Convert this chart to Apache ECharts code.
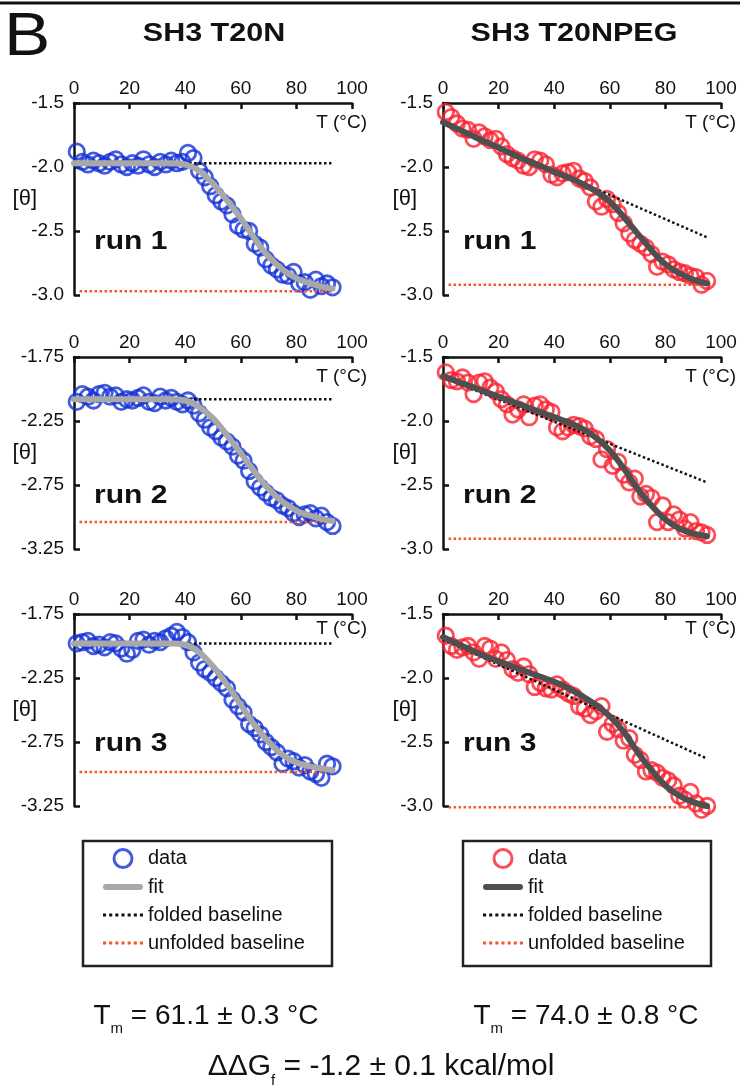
<!DOCTYPE html>
<html>
<head>
<meta charset="utf-8">
<title>SH3 T20N / T20NPEG thermal melts</title>
<script src="https://cdn.jsdelivr.net/npm/echarts@6/dist/echarts.min.js"></script>
<style>
  html, body { margin: 0; padding: 0; background: #fff; }
  #chart { width: 740px; height: 1090px; }
</style>
</head>
<body>
<div id="chart"></div>
<script>
// temperatures (°C)
var tempT20n = [1,3,5,7,9,11,13,15,17,19,21,23,25,27,29,31,33,35,37,39,41,43,45,47,49,51,53,55,57,59,61,63,65,67,69,71,73,75,77,79,81,83,85,87,89,91,93];
var tempPeg = [1,3,5,7,9,11,13,15,17,19,21,23,25,27,29,31,33,35,37,39,41,43,45,47,49,51,53,55,57,59,61,63,65,67,69,71,73,75,77,79,81,83,85,87,89,91,93,95];

// measured [θ], SH3 T20N
var t20nRun1 = [-1.88,-1.96,-1.98,-1.95,-1.97,-1.99,-1.96,-1.94,-1.98,-2.00,-1.97,-1.99,-1.94,-1.98,-2.00,-1.96,-1.98,-1.95,-1.97,-1.96,-1.89,-1.93,-2.03,-2.08,-2.15,-2.22,-2.27,-2.30,-2.37,-2.46,-2.49,-2.50,-2.60,-2.63,-2.72,-2.77,-2.80,-2.84,-2.85,-2.82,-2.91,-2.90,-2.96,-2.88,-2.93,-2.91,-2.94];
var t20nRun2 = [-2.10,-2.04,-2.06,-2.09,-2.04,-2.03,-2.06,-2.05,-2.10,-2.08,-2.09,-2.07,-2.05,-2.10,-2.11,-2.06,-2.09,-2.07,-2.10,-2.12,-2.09,-2.13,-2.19,-2.24,-2.30,-2.33,-2.38,-2.41,-2.45,-2.52,-2.56,-2.64,-2.72,-2.77,-2.81,-2.85,-2.87,-2.91,-2.93,-2.97,-3.00,-2.98,-2.97,-3.01,-2.99,-3.04,-3.07];
var t20nRun3 = [-1.98,-1.97,-1.96,-2.00,-1.99,-2.01,-1.97,-1.98,-2.02,-2.06,-2.03,-1.96,-1.95,-1.99,-1.96,-1.97,-1.94,-1.92,-1.89,-1.93,-1.97,-2.05,-2.13,-2.18,-2.21,-2.25,-2.29,-2.33,-2.42,-2.47,-2.52,-2.61,-2.64,-2.69,-2.75,-2.79,-2.83,-2.92,-2.88,-2.90,-2.95,-2.93,-2.98,-3.00,-3.03,-2.92,-2.94];

// measured [θ], SH3 T20NPEG
var pegRun1 = [-1.57,-1.61,-1.66,-1.70,-1.71,-1.78,-1.73,-1.76,-1.79,-1.78,-1.84,-1.90,-1.93,-1.95,-1.99,-2.00,-1.94,-1.95,-1.98,-2.06,-2.08,-2.05,-2.04,-2.03,-2.09,-2.11,-2.16,-2.27,-2.31,-2.25,-2.29,-2.36,-2.44,-2.52,-2.57,-2.60,-2.63,-2.68,-2.78,-2.74,-2.76,-2.80,-2.82,-2.83,-2.85,-2.86,-2.92,-2.89];
var pegRun2 = [-1.62,-1.68,-1.69,-1.66,-1.70,-1.79,-1.70,-1.69,-1.74,-1.77,-1.83,-1.87,-1.95,-1.91,-1.87,-1.97,-1.88,-1.87,-1.91,-1.93,-2.05,-2.08,-2.05,-2.03,-2.04,-2.06,-2.12,-2.14,-2.30,-2.22,-2.35,-2.32,-2.42,-2.48,-2.45,-2.59,-2.57,-2.60,-2.79,-2.66,-2.79,-2.73,-2.77,-2.84,-2.79,-2.86,-2.87,-2.89];
var pegRun3 = [-1.67,-1.75,-1.78,-1.76,-1.75,-1.80,-1.85,-1.75,-1.77,-1.85,-1.80,-1.86,-1.93,-1.96,-1.91,-1.97,-2.07,-2.04,-2.08,-2.09,-2.05,-2.09,-2.12,-2.14,-2.22,-2.24,-2.29,-2.26,-2.22,-2.42,-2.36,-2.40,-2.49,-2.47,-2.60,-2.64,-2.73,-2.72,-2.74,-2.78,-2.80,-2.84,-2.92,-2.95,-2.89,-2.98,-3.03,-3.00];

// fitted curves
var fitTempT20n = [0,5,10,15,20,25,30,35,40,45,50,55,60,65,70,75,80,85,90,93];
var fitT20n1 = [-1.97,-1.97,-1.97,-1.97,-1.97,-1.97,-1.97,-1.97,-1.98,-2.03,-2.13,-2.26,-2.40,-2.56,-2.70,-2.80,-2.87,-2.91,-2.94,-2.95];
var fitT20n2 = [-2.08,-2.08,-2.08,-2.08,-2.08,-2.08,-2.08,-2.08,-2.09,-2.14,-2.23,-2.36,-2.50,-2.65,-2.78,-2.88,-2.95,-2.99,-3.02,-3.03];
var fitT20n3 = [-1.98,-1.98,-1.98,-1.98,-1.98,-1.98,-1.98,-1.98,-1.99,-2.05,-2.16,-2.30,-2.46,-2.62,-2.75,-2.85,-2.91,-2.94,-2.96,-2.97];
var fitTempPeg = [0,5,10,15,20,25,30,35,40,45,50,55,60,65,70,75,80,85,90,95];
var fitPeg1 = [-1.65,-1.70,-1.75,-1.80,-1.85,-1.90,-1.95,-1.99,-2.04,-2.08,-2.13,-2.19,-2.27,-2.39,-2.52,-2.65,-2.76,-2.83,-2.88,-2.91];
var fitPeg2 = [-1.65,-1.69,-1.73,-1.77,-1.81,-1.85,-1.89,-1.93,-1.97,-2.01,-2.06,-2.13,-2.23,-2.37,-2.53,-2.66,-2.77,-2.84,-2.88,-2.90];
var fitPeg3 = [-1.68,-1.73,-1.78,-1.83,-1.87,-1.91,-1.95,-1.99,-2.03,-2.08,-2.14,-2.21,-2.30,-2.42,-2.58,-2.72,-2.84,-2.92,-2.97,-3.00];

// baselines: [start value, end value] over [start T, end T]
var foldedT20n = [[-1.97,-1.97],[-2.08,-2.08],[-1.98,-1.98]];
var unfoldedT20n = [[-2.97,-2.97],[-3.04,-3.04],[-2.985,-2.985]];
var foldedPeg = [[-1.65,-2.55],[-1.66,-2.48],[-1.70,-2.63]];
var unfoldedPeg = [[-2.92,-2.92],[-2.92,-2.92],[-3.01,-3.01]];
var foldedRangeT20n = [0, 93], unfoldedRangeT20n = [2, 93];
var foldedRangePeg = [0, 95], unfoldedRangePeg = [2, 95];

// tick labels
var xLabels = ['0','20','40','60','80','100'];
var yLabelsA = ['-1.5','-2.0','-2.5','-3.0'];
var yLabelsB = ['-1.75','-2.25','-2.75','-3.25'];

var runNames = ['run 1','run 2','run 3'];
var titles = ['SH3 T20N','SH3 T20NPEG'];
var legendNames = ['data','fit','folded baseline','unfolded baseline'];
var tmTexts = ['61.1 ± 0.3 °C','74.0 ± 0.8 °C'];

// layout
var FONT = '"Liberation Sans", Arial, Helvetica, sans-serif';
var gridLeft = [74, 443], gridTop = [103, 357, 614], gridW = 278, gridH = 192;
var runY = [242, 496, 744], unitY = [123, 377, 629];
var colStyle = [
  { prefix: 'L:', dot: '#1432d6', fit: '#a8a8a8', nameGap: 37 },
  { prefix: 'R:', dot: '#fa2230', fit: '#4f4f4f', nameGap: 26 }
];

var panels = [
  { col: 0, row: 0, t: tempT20n, y: t20nRun1, ft: fitTempT20n, fit: fitT20n1, fold: foldedT20n[0], unf: unfoldedT20n[0], fr: foldedRangeT20n, ur: unfoldedRangeT20n, ticks: yLabelsA },
  { col: 0, row: 1, t: tempT20n, y: t20nRun2, ft: fitTempT20n, fit: fitT20n2, fold: foldedT20n[1], unf: unfoldedT20n[1], fr: foldedRangeT20n, ur: unfoldedRangeT20n, ticks: yLabelsB },
  { col: 0, row: 2, t: tempT20n, y: t20nRun3, ft: fitTempT20n, fit: fitT20n3, fold: foldedT20n[2], unf: unfoldedT20n[2], fr: foldedRangeT20n, ur: unfoldedRangeT20n, ticks: yLabelsB },
  { col: 1, row: 0, t: tempPeg, y: pegRun1, ft: fitTempPeg, fit: fitPeg1, fold: foldedPeg[0], unf: unfoldedPeg[0], fr: foldedRangePeg, ur: unfoldedRangePeg, ticks: yLabelsA },
  { col: 1, row: 1, t: tempPeg, y: pegRun2, ft: fitTempPeg, fit: fitPeg2, fold: foldedPeg[1], unf: unfoldedPeg[1], fr: foldedRangePeg, ur: unfoldedRangePeg, ticks: yLabelsA },
  { col: 1, row: 2, t: tempPeg, y: pegRun3, ft: fitTempPeg, fit: fitPeg3, fold: foldedPeg[2], unf: unfoldedPeg[2], fr: foldedRangePeg, ur: unfoldedRangePeg, ticks: yLabelsA }
];

function zip(a, b) {
  return a.map(function (v, i) { return [v, b[i]]; });
}

var axisLineStyle = { color: '#111', width: 2.5 };
var grids = [], xAxes = [], yAxes = [], series = [], graphics = [];

panels.forEach(function (p, i) {
  var cs = colStyle[p.col];
  var yVals = p.ticks.map(Number);
  grids.push({ left: gridLeft[p.col], top: gridTop[p.row], width: gridW, height: gridH });
  xAxes.push({
    gridIndex: i, type: 'value', position: 'top', min: 0, max: 100,
    splitLine: { show: false },
    axisLine: { lineStyle: axisLineStyle },
    axisTick: { inside: true, length: 6, lineStyle: axisLineStyle, customValues: xLabels.map(Number) },
    axisLabel: { customValues: xLabels.map(Number), margin: 5, fontSize: 19, color: '#111', fontFamily: FONT }
  });
  yAxes.push({
    gridIndex: i, type: 'value', min: Math.min.apply(null, yVals), max: Math.max.apply(null, yVals),
    name: '[θ]', nameLocation: 'middle', nameRotate: 0, nameGap: cs.nameGap, nameMoveOverlap: false,
    nameTextStyle: { fontSize: 22, color: '#111', fontFamily: FONT, align: 'right', verticalAlign: 'middle' },
    splitLine: { show: false },
    axisLine: { onZero: false, lineStyle: axisLineStyle },
    axisTick: { inside: true, length: 6, lineStyle: axisLineStyle, customValues: yVals },
    axisLabel: {
      customValues: yVals, margin: 10, fontSize: 19, color: '#111', fontFamily: FONT,
      formatter: function (v) { return p.ticks[yVals.indexOf(v)] || ''; }
    }
  });
  series.push({
    name: cs.prefix + 'folded baseline', type: 'line', xAxisIndex: i, yAxisIndex: i,
    data: [[p.fr[0], p.fold[0]], [p.fr[1], p.fold[1]]], symbol: 'none', clip: false,
    color: '#111', lineStyle: { color: '#111', width: 2.5, type: 'dotted' }
  });
  series.push({
    name: cs.prefix + 'unfolded baseline', type: 'line', xAxisIndex: i, yAxisIndex: i,
    data: [[p.ur[0], p.unf[0]], [p.ur[1], p.unf[1]]], symbol: 'none', clip: false,
    color: '#f2592a', lineStyle: { color: '#f2592a', width: 2.5, type: 'dotted' }
  });
  series.push({
    name: cs.prefix + 'data', type: 'scatter', xAxisIndex: i, yAxisIndex: i,
    data: zip(p.t, p.y), symbol: 'circle', symbolSize: 15.5, clip: false,
    itemStyle: { color: 'rgba(0,0,0,0)', borderColor: cs.dot, borderWidth: 2.8 }
  });
  series.push({
    name: cs.prefix + 'fit', type: 'line', xAxisIndex: i, yAxisIndex: i,
    data: zip(p.ft, p.fit), symbol: 'none', smooth: 0.4, clip: false,
    color: cs.fit, lineStyle: { color: cs.fit, width: 6, cap: 'round' }
  });

  graphics.push({
    type: 'text', x: gridLeft[p.col] + 20, y: runY[p.row], scaleX: 1.2,
    style: { text: runNames[p.row], fontSize: 25, fontWeight: 'bold', fontFamily: FONT, fill: '#111', align: 'left', verticalAlign: 'middle' }
  });
  graphics.push({
    type: 'text', x: gridLeft[p.col] + gridW + 15, y: unitY[p.row],
    style: { text: 'T (°C)', fontSize: 19, fontFamily: FONT, fill: '#111', align: 'right', verticalAlign: 'middle' }
  });
});

// legend icons
var fitIcon = 'path://M3 0H37A3 3 0 0 1 37 6H3A3 3 0 0 1 3 0Z';
var dotIcon = 'path://M0 0h3v3h-3z M6 0h3v3h-3z M12 0h3v3h-3z M18 0h3v3h-3z M24 0h3v3h-3z M30 0h3v3h-3z M36 0h3v3h-3z';

function legendFor(col, left) {
  var cs = colStyle[col];
  return {
    orient: 'vertical', left: left, top: 848, padding: 0, itemGap: 8,
    itemWidth: 40, itemHeight: 18, selectedMode: false,
    textStyle: { fontSize: 20, color: '#111', fontFamily: FONT },
    formatter: function (n) { return n.slice(2); },
    data: [
      { name: cs.prefix + legendNames[0], icon: 'circle', itemStyle: { color: 'rgba(0,0,0,0)', borderColor: cs.dot, borderWidth: 3 } },
      { name: cs.prefix + legendNames[1], icon: fitIcon, itemStyle: { color: cs.fit, borderWidth: 0 } },
      { name: cs.prefix + legendNames[2], icon: dotIcon, itemStyle: { color: '#111', borderWidth: 0 } },
      { name: cs.prefix + legendNames[3], icon: dotIcon, itemStyle: { color: '#f2592a', borderWidth: 0 } }
    ]
  };
}

graphics.push(
  { type: 'line', shape: { x1: 0, y1: 3, x2: 740, y2: 3 }, style: { stroke: '#111', lineWidth: 3 } },
  { type: 'text', x: 4, y: 38, scaleX: 1.12, style: { text: 'B', fontSize: 62, fontFamily: FONT, fill: '#111', align: 'left', verticalAlign: 'middle' } },
  { type: 'text', x: 214, y: 34, scaleX: 1.22, style: { text: titles[0], fontSize: 25, fontWeight: 'bold', fontFamily: FONT, fill: '#111', align: 'center', verticalAlign: 'middle' } },
  { type: 'text', x: 574, y: 34, scaleX: 1.22, style: { text: titles[1], fontSize: 25, fontWeight: 'bold', fontFamily: FONT, fill: '#111', align: 'center', verticalAlign: 'middle' } },
  { type: 'rect', shape: { x: 83, y: 841, width: 249, height: 125 }, style: { fill: 'none', stroke: '#222', lineWidth: 2.5 } },
  { type: 'rect', shape: { x: 463, y: 841, width: 248, height: 125 }, style: { fill: 'none', stroke: '#222', lineWidth: 2.5 } },
  { type: 'text', x: 206, y: 1016, style: { text: 'T{s|m} = ' + tmTexts[0], fontSize: 28, fontFamily: FONT, fill: '#111', align: 'center', verticalAlign: 'middle',
      rich: { s: { fontSize: 15, fontFamily: FONT, fill: '#111', padding: [26, 0, 0, 0] } } } },
  { type: 'text', x: 586, y: 1016, style: { text: 'T{s|m} = ' + tmTexts[1], fontSize: 28, fontFamily: FONT, fill: '#111', align: 'center', verticalAlign: 'middle',
      rich: { s: { fontSize: 15, fontFamily: FONT, fill: '#111', padding: [26, 0, 0, 0] } } } },
  { type: 'text', x: 381, y: 1067, style: { text: 'ΔΔG{s|f} = -1.2 ± 0.1 kcal/mol', fontSize: 30, fontFamily: FONT, fill: '#111', align: 'center', verticalAlign: 'middle',
      rich: { s: { fontSize: 15, fontFamily: FONT, fill: '#111', padding: [28, 0, 0, 0] } } } }
);

var chart = echarts.init(document.getElementById('chart'), null, { renderer: 'canvas' });
chart.setOption({
  animation: false,
  backgroundColor: '#fff',
  grid: grids,
  xAxis: xAxes,
  yAxis: yAxes,
  legend: [legendFor(0, 103), legendFor(1, 483)],
  series: series,
  graphic: { elements: graphics }
});
</script>
</body>
</html>
